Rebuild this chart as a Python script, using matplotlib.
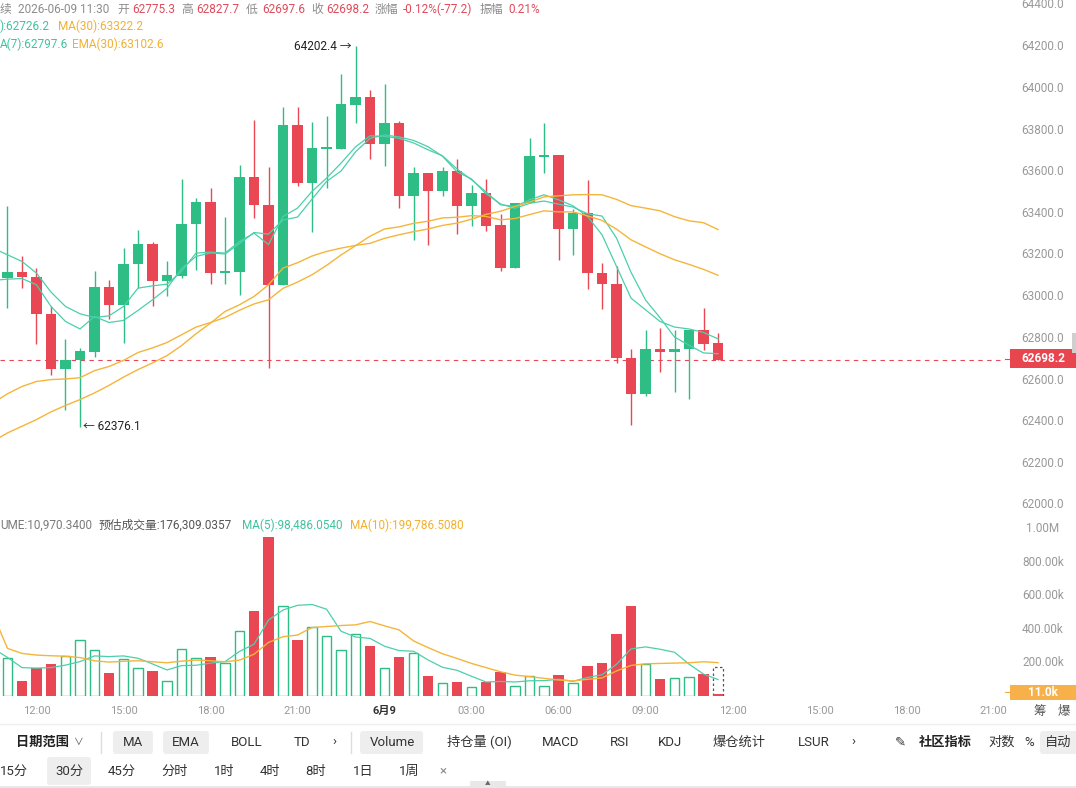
import numpy as np
import matplotlib.pyplot as plt
from matplotlib.patches import Rectangle, FancyBboxPatch

W, H = 1076, 788
GREEN = '#2ebd85'
RED = '#ea4755'
TEAL = '#4ccfab'
ORANGE = '#f5b53a'
TXT_TEAL = '#3fc49f'
TXT_ORANGE = '#f3b02f'
GRAY = '#999999'
DARK = '#333333'
FONT = ['Roboto', 'Noto Sans CJK SC', 'DejaVu Sans']
plt.rcParams['font.family'] = FONT

# 30 min candles, 2026-06-08 11:00 .. 2026-06-09 11:30
opens = [63089, 63118, 63094, 62916, 62652, 62697, 62736, 63047, 62958, 63156,
         63254, 63073, 63097, 63348, 63453, 63113, 63118, 63575, 63441, 63054,
         63824, 63548, 63711, 63711, 63922, 63959, 63733, 63834, 63485, 63594,
         63509, 63605, 63433, 63498, 63342, 63138, 63450, 63672, 63680, 63327,
         63401, 63113, 63060, 62705, 62533, 62748, 62734, 62748, 62841, 62775.3]
highs = [63433, 63196, 63140, 62953, 62798, 62755, 63124, 63078, 63234, 63321,
         63262, 63172, 63564, 63473, 63522, 63381, 63631, 63847, 63623, 63912,
         63912, 63839, 63867, 64067, 64202.4, 63992, 64021, 63845, 63621, 63594,
         63624, 63661, 63537, 63565, 63397, 63450, 63762, 63836, 63680, 63421,
         63561, 63164, 63145, 62748, 62840, 62852, 62840, 62841, 62945, 62827.7]
lows = [62948, 63041, 62772, 62625, 62454, 62376.1, 62710, 62892, 62780, 63041,
        62953, 63001, 63089, 63129, 63060, 63060, 63009, 63377, 62657, 63054,
        63529, 63311, 63524, 63711, 63836, 63660, 63625, 63428, 63273, 63246,
        63481, 63300, 63337, 63313, 63124, 63138, 63450, 63596, 63174, 63199,
        63036, 62940, 62684, 62386, 62521, 62638, 62542, 62510, 62745, 62697.6]
closes = [63118, 63094, 62916, 62652, 62697, 62740, 63047, 62958, 63158, 63254,
          63073, 63105, 63350, 63453, 63113, 63119, 63575, 63439, 63054, 63824,
          63548, 63714, 63719, 63925, 63959, 63733, 63834, 63485, 63594, 63509,
          63605, 63433, 63498, 63337, 63138, 63450, 63676, 63680, 63327, 63404,
          63113, 63060, 62704, 62533, 62748, 62734, 62748, 62841, 62774, 62698.2]
volumes = [229e3, 90e3, 169e3, 193e3, 239e3, 337e3, 275e3, 139e3, 221e3, 169e3,
           151e3, 88e3, 281e3, 229e3, 235e3, 197e3, 392e3, 508e3, 954e3, 540e3,
           333e3, 414e3, 361e3, 277e3, 372e3, 301e3, 169e3, 235e3, 257e3, 120e3,
           76e3, 84e3, 52e3, 82e3, 143e3, 58e3, 119e3, 58e3, 126e3, 76e3,
           179e3, 199e3, 373e3, 536e3, 191e3, 104e3, 110e3, 114e3, 133e3, 10970.34]
est_volume = 176309.0357

# indicator lines, first value belongs to the candle before the window
ma7 = [63078, 63084, 63087, 63057, 62953, 62881, 62845, 62905, 62876, 62886, 62934,
       62985, 63040, 63135, 63193, 63210, 63205, 63255, 63308, 63300, 63368,
       63382, 63468, 63553, 63603, 63695, 63760, 63776, 63767, 63750, 63720,
       63674, 63599, 63565, 63494, 63445, 63424, 63448, 63459, 63444, 63430,
       63398, 63387, 63281, 63117, 62984, 62899, 62806, 62767, 62730, 62726.2]
ema7 = [63233, 63201, 63169, 63113, 63022, 62953, 62918, 62900, 62908, 62953, 63041,
        63052, 63060, 63121, 63209, 63214, 63209, 63265, 63305, 63250, 63385,
        63425, 63505, 63569, 63641, 63719, 63772, 63769, 63760, 63738, 63705,
        63676, 63613, 63561, 63503, 63441, 63433, 63465, 63489, 63465, 63436,
        63385, 63297, 63145, 62993, 62937, 62881, 62854, 62845, 62828, 62797.6]
ma30 = [62306, 62346, 62378, 62410, 62447, 62478, 62506, 62538, 62574, 62614, 62650,
        62682, 62717, 62765, 62822, 62873, 62929, 62961, 63001, 63057, 63137,
        63163, 63195, 63217, 63233, 63246, 63256, 63280, 63297, 63312, 63325,
        63342, 63353, 63372, 63395, 63410, 63433, 63454, 63479, 63484, 63489,
        63490, 63489, 63467, 63437, 63425, 63412, 63384, 63364, 63355, 63322.2]
ema30 = [62490, 62534, 62569, 62593, 62602, 62605, 62611, 62645, 62665, 62694, 62732,
         62754, 62780, 62817, 62854, 62876, 62900, 62935, 62965, 62985, 63040,
         63070, 63105, 63150, 63200, 63245, 63290, 63325, 63335, 63352, 63362,
         63378, 63381, 63389, 63385, 63369, 63375, 63394, 63412, 63407, 63407,
         63388, 63366, 63324, 63273, 63239, 63206, 63177, 63155, 63131, 63102.6]
vol_ma5 = [285e3, 231e3, 170e3, 167e3, 170e3, 185e3, 206e3, 240e3, 236e3, 240e3, 226e3,
           192e3, 156e3, 182e3, 184e3, 197e3, 206e3, 267e3, 310e3, 455e3, 515e3,
           543e3, 548e3, 520e3, 388e3, 353e3, 345e3, 298e3, 272e3, 268e3, 216e3,
           172e3, 154e3, 118e3, 84e3, 87e3, 84e3, 91e3, 92e3, 100e3, 88e3,
           111e3, 127e3, 190e3, 282e3, 294e3, 280e3, 262e3, 191e3, 131e3, 98486.054]
vol_ma10 = [490e3, 285e3, 255e3, 245e3, 241e3, 238e3, 230e3, 211e3, 203e3, 208e3, 211e3,
            205e3, 199e3, 209e3, 215e3, 211e3, 205e3, 215e3, 250e3, 321e3, 355e3,
            365e3, 410e3, 416e3, 422e3, 426e3, 446e3, 420e3, 396e3, 330e3, 290e3,
            253e3, 225e3, 195e3, 170e3, 145e3, 125e3, 116e3, 106e3, 96e3, 90e3,
            100e3, 108e3, 150e3, 183e3, 193e3, 195e3, 197e3, 199e3, 205e3, 199786.508]
last_price = 62698.2
price_ticks = [64400, 64200, 64000, 63800, 63600, 63400, 63200, 63000,
               62800, 62600, 62400, 62200, 62000]
vol_ticks = [1e6, 800e3, 600e3, 400e3, 200e3]
vol_tick_labels = ['1.00M', '800.00k', '600.00k', '400.00k', '200.00k']
time_labels = ['12:00', '15:00', '18:00', '21:00', '6月9', '03:00',
               '06:00', '09:00', '12:00', '15:00', '18:00', '21:00']


def rect(x0, y0, x1, y1):
    return [x0 / W, 1 - y1 / H, (x1 - x0) / W, (y1 - y0) / H]


fig = plt.figure(figsize=(W / 100, H / 100), dpi=100)
ax = fig.add_axes(rect(0, 0, 1005, 515))
axv = fig.add_axes(rect(0, 515, 1005, 696))
for a in (ax, axv):
    a.set_xlim(-0.517, 68.79)
    a.axis('off')
ax.set_ylim(61952, 64424)
axv.set_ylim(0, 181 * 5988)

n = len(closes)
idx = np.arange(n)
xl = np.arange(-1, n)

# candles
for i in idx:
    o, h, l, c = opens[i], highs[i], lows[i], closes[i]
    col = GREEN if c >= o else RED
    ax.vlines(i, l, h, color=col, lw=1, zorder=2)
    ax.bar(i, max(abs(c - o), 8), bottom=min(o, c), width=0.7, color=col, lw=0, zorder=3)

ax.plot(xl, ma7, color=TEAL, lw=0.9, zorder=4)
ax.plot(xl, ema7, color=TEAL, lw=0.9, zorder=4)
ax.plot(xl, ma30, color=ORANGE, lw=1.0, zorder=4)
ax.plot(xl, ema30, color=ORANGE, lw=1.0, zorder=4)
ax.axhline(last_price, color=RED, lw=0.8, ls=(0, (4, 4)), zorder=1)

ax.text(24 - 0.25, highs[24], f'{highs[24]:.1f} →', ha='right', va='center',
        fontsize=8.5, color='#222222', zorder=5)
ax.text(5 + 0.2, lows[5], f'← {lows[5]:.1f}', ha='left', va='center',
        fontsize=8.5, color='#222222', zorder=5)

# volume
for i in idx[:-1]:
    if closes[i] >= opens[i]:
        axv.bar(i, volumes[i], width=0.66, facecolor='white', edgecolor=GREEN, lw=1)
    else:
        axv.bar(i, volumes[i], width=0.7, color=RED, lw=0)
axv.bar(n - 1, est_volume, width=0.66, facecolor='none', edgecolor='#555555',
        lw=0.9, ls=(0, (2, 2)))
axv.bar(n - 1, volumes[-1], width=0.7, color=RED, lw=0)
axv.plot(xl, vol_ma5, color=TEAL, lw=0.9)
axv.plot(xl, vol_ma10, color=ORANGE, lw=1.0)

# right scale
for p in price_ticks:
    ax.text(1043 / 1005, p, f'{p:.1f}', transform=ax.get_yaxis_transform(),
            ha='center', va='center', fontsize=8.5, color=GRAY, clip_on=False)
for v, s in zip(vol_ticks, vol_tick_labels):
    axv.text(1043 / 1005, v, s, transform=axv.get_yaxis_transform(),
             ha='center', va='center', fontsize=8.5, color=GRAY, clip_on=False)

# time labels every 6 candles
for k, s in enumerate(time_labels):
    bold = s == '6月9'
    axv.text(2 + 6 * k, -15 / 181, s, transform=axv.get_xaxis_transform(),
             ha='center', va='center', fontsize=8, clip_on=False,
             color=DARK if bold else GRAY, fontweight='bold' if bold else 'normal')

# overlay in pixel coordinates
ov = fig.add_axes([0, 0, 1, 1], zorder=10)
ov.set_xlim(0, W)
ov.set_ylim(H, 0)
ov.axis('off')


def t(x, y, s, color=DARK, size=8.5, **kw):
    ov.text(x, y, s, color=color, fontsize=size, va='center', **kw)


LBL = '#8c8c8c'
VAL = '#e04b5a'
head = [('续', 0, LBL), ('2026-06-09 11:30', 18, LBL), ('开', 117, LBL),
        (f'{opens[-1]:.1f}', 132, VAL), ('高', 181, LBL), (f'{highs[-1]:.1f}', 196, VAL),
        ('低', 246, LBL), (f'{lows[-1]:.1f}', 262, VAL), ('收', 311, LBL),
        (f'{closes[-1]:.1f}', 326, VAL), ('涨幅', 375, LBL), ('-0.12%(-77.2)', 403, VAL),
        ('振幅', 480, LBL), ('0.21%', 508, VAL)]
for s, x, c in head:
    t(x, 9, s, c)
# the legend row is scrolled left in the reference, only the tail of each label shows
t(0, 26, f'):{ma7[-1]:.1f}', TXT_TEAL)
t(58, 26, f'MA(30):{ma30[-1]:.1f}', TXT_ORANGE)
t(0, 44, f'A(7):{ema7[-1]:.1f}', TXT_TEAL)
t(72, 44, f'EMA(30):{ema30[-1]:.1f}', TXT_ORANGE)

t(0, 525, f'UME:{volumes[-1]:,.4f}', '#7a7a7a')
t(99, 525, f'预估成交量:{est_volume:,.4f}', '#555555')
t(242, 525, f'MA(5):{vol_ma5[-1]:,.4f}', TXT_TEAL)
t(350, 525, f'MA(10):{vol_ma10[-1]:,.4f}', TXT_ORANGE)

# price / volume tags on the scale
ov.plot([1005, 1010], [358.5, 358.5], color=RED, lw=0.8)
ov.add_patch(Rectangle((1010, 349), 66, 19, color='#e8454f', lw=0))
t(1043, 358.5, f'{last_price:.1f}', 'white', 8.5, ha='center', fontweight='bold')
ov.add_patch(Rectangle((1072, 333), 4, 20, color='#cfcfcf', lw=0))
ov.plot([1005, 1010], [692, 692], color='#f5a93a', lw=0.8)
ov.add_patch(Rectangle((1010, 685), 66, 15, color='#f7b04a', lw=0))
t(1043, 692.5, f'{volumes[-1] / 1e3:.1f}k', 'white', 8.5, ha='center', fontweight='bold')
t(1040, 712, '筹', '#555555', 9, ha='center')
t(1064, 712, '爆', '#555555', 9, ha='center')

# toolbar
ov.plot([0, W], [724, 724], color='#eeeeee', lw=1)
for x0, x1, y0, y1 in [(113, 153, 731, 754), (163, 209, 731, 754), (360, 423, 731, 754),
                       (1040, 1080, 731, 754), (47, 91, 757, 785)]:
    ov.add_patch(FancyBboxPatch((x0, y0), x1 - x0, y1 - y0, boxstyle='round,pad=0,rounding_size=3',
                                fc='#eeeeee', ec='none'))
for x in (101, 351):
    ov.plot([x, x], [732, 753], color='#dddddd', lw=1)

row1 = [('日期范围', 43), ('MA', 133), ('EMA', 186), ('BOLL', 247), ('TD', 302),
        ('›', 334), ('Volume', 392), ('持仓量 (OI)', 479), ('MACD', 561), ('RSI', 620),
        ('KDJ', 670), ('爆仓统计', 739), ('LSUR', 814), ('›', 853), ('✎', 900),
        ('社区指标', 945), ('对数', 1002), ('%', 1029), ('自动', 1058)]
for s, x in row1:
    bold = s in ('日期范围', '社区指标')
    t(x, 742, s, '#222222' if bold else DARK, 9.5, ha='center',
      fontweight='bold' if bold else 'normal')
t(79, 742, '∨', '#555555', 7, ha='center')
row2 = [('15分', 14), ('30分', 69), ('45分', 122), ('分时', 175), ('1时', 224), ('4时', 270),
        ('8时', 316), ('1日', 363), ('1周', 409), ('×', 443)]
for s, x in row2:
    t(x, 771, s, DARK if s != '×' else '#888888', 9.5, ha='center')

ov.add_patch(Rectangle((0, 786), W, 2, color='#e8e8e8', lw=0))
ov.add_patch(Rectangle((470, 781), 36, 7, color='#e8e8e8', lw=0))
t(488, 784, '▲', '#666666', 4, ha='center')

fig.savefig('out.png', dpi=100, facecolor='white')
